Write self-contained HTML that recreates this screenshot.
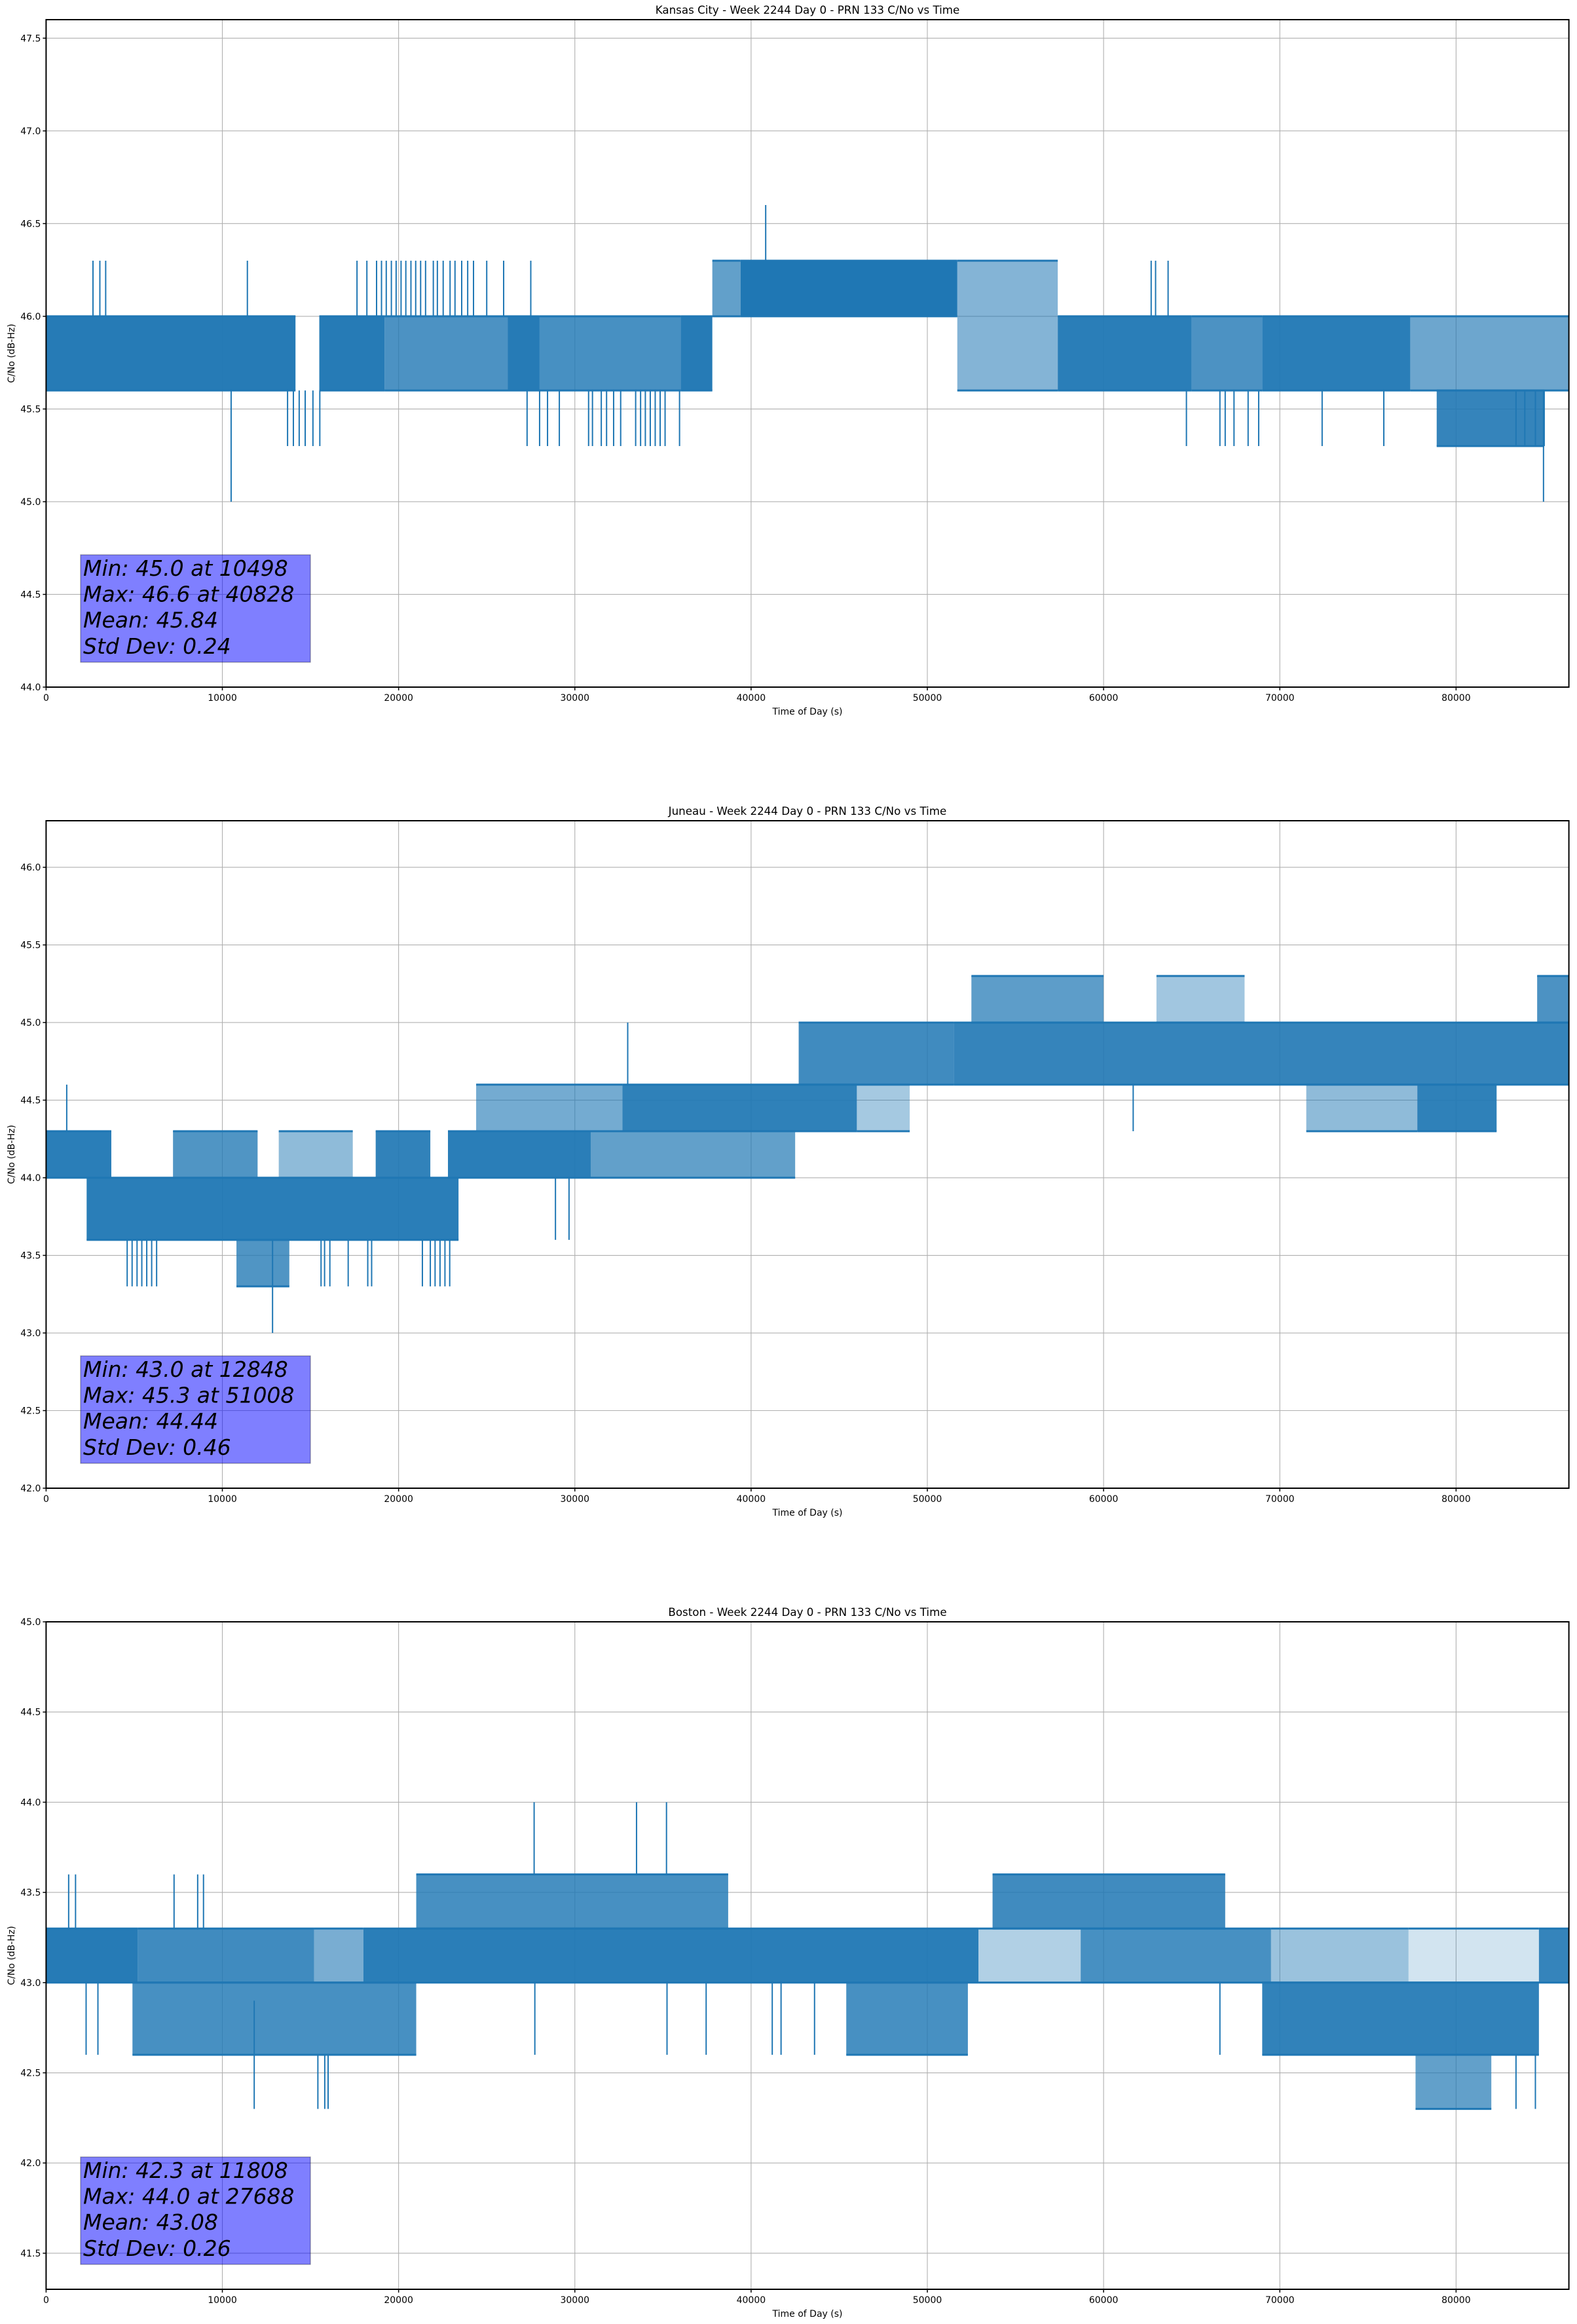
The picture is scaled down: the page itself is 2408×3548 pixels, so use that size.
<!DOCTYPE html>
<html>
<head>
<meta charset="utf-8">
<style>
  html,body{margin:0;padding:0;background:#fff;}
  svg{display:block;}
  text{font-family:"DejaVu Sans","Liberation Sans",sans-serif;fill:#000;}
</style>
</head>
<body>
<svg id="fig" width="2408" height="3548" viewBox="0 0 2408 3548" xmlns="http://www.w3.org/2000/svg">
<rect x="0" y="0" width="2408" height="3548" fill="#fff"/>
</svg>
<script>
// ---------- Kansas City data ----------
const kcTitle = "Kansas City - Week 2244 Day 0 - PRN 133 C/No vs Time";
const kcYRange = [44.0, 47.6];
const kcSegStart = [0, 15500, 19200, 26200, 28000, 36000, 37800, 39400, 51700, 57400, 65000, 69000, 77400, 78900];
const kcSegEnd   = [14150, 19200, 26200, 28000, 36000, 37800, 39400, 51700, 57400, 65000, 69000, 77400, 86400, 85000];
const kcSegLow   = [45.6, 45.6, 45.6, 45.6, 45.6, 45.6, 46.0, 46.0, 45.6, 45.6, 45.6, 45.6, 45.6, 45.3];
const kcSegHigh  = [46.0, 46.0, 46.0, 46.0, 46.0, 46.0, 46.3, 46.3, 46.3, 46.0, 46.0, 46.0, 46.0, 45.6];
const kcSegDens  = [0.97, 0.97, 0.8, 0.97, 0.82, 0.97, 0.7, 1.0, 0.55, 0.95, 0.8, 0.95, 0.65, 0.9];
const kcSpikeT  = [2660,3050,3380,11420,17640,18200,18750,19030,19300,19590,19860,20140,20410,20700,20970,21250,21530,21970,22200,22530,22920,23200,23580,23920,24250,25000,25960,27500,62700,62950,63660,
                   13700,14030,14360,14700,15140,15530,27290,28000,28450,29120,30780,31000,31500,31800,32200,32600,33450,33730,34000,34280,34560,34840,35120,35940,64700,66600,66900,67400,68200,68800,72400,75900,83400,83900,84500,85000,
                   10498,40828,84960];
const kcSpikeLo = [46.0,46.0,46.0,46.0,46.0,46.0,46.0,46.0,46.0,46.0,46.0,46.0,46.0,46.0,46.0,46.0,46.0,46.0,46.0,46.0,46.0,46.0,46.0,46.0,46.0,46.0,46.0,46.0,46.0,46.0,46.0,
                   45.3,45.3,45.3,45.3,45.3,45.3,45.3,45.3,45.3,45.3,45.3,45.3,45.3,45.3,45.3,45.3,45.3,45.3,45.3,45.3,45.3,45.3,45.3,45.3,45.3,45.3,45.3,45.3,45.3,45.3,45.3,45.3,45.3,45.3,45.3,45.3,
                   45.0,46.3,45.0];
const kcSpikeHi = [46.3,46.3,46.3,46.3,46.3,46.3,46.3,46.3,46.3,46.3,46.3,46.3,46.3,46.3,46.3,46.3,46.3,46.3,46.3,46.3,46.3,46.3,46.3,46.3,46.3,46.3,46.3,46.3,46.3,46.3,46.3,
                   45.6,45.6,45.6,45.6,45.6,45.6,45.6,45.6,45.6,45.6,45.6,45.6,45.6,45.6,45.6,45.6,45.6,45.6,45.6,45.6,45.6,45.6,45.6,45.6,45.6,45.6,45.6,45.6,45.6,45.6,45.6,45.6,45.6,45.6,45.6,45.6,
                   45.6,46.6,45.6];
const kcStats = ["Min: 45.0 at 10498","Max: 46.6 at 40828","Mean: 45.84","Std Dev: 0.24"];

// ---------- Juneau data ----------
const juTitle = "Juneau - Week 2244 Day 0 - PRN 133 C/No vs Time";
const juYRange = [42.0, 46.3];
const juSegStart = [0, 2300, 7200, 13200, 18700, 22800, 30900, 24400, 32700, 46000, 42700, 51500, 52500, 63000, 84600, 77800, 71500, 10800];
const juSegEnd   = [3700, 23400, 12000, 17400, 21800, 30900, 42500, 32700, 46000, 49000, 51500, 86400, 60000, 68000, 86400, 82300, 77800, 13800];
const juSegLow   = [44.0, 43.6, 44.0, 44.0, 44.0, 44.0, 44.0, 44.3, 44.3, 44.3, 44.6, 44.6, 45.0, 45.0, 45.0, 44.3, 44.3, 43.3];
const juSegHigh  = [44.3, 44.0, 44.3, 44.3, 44.3, 44.3, 44.3, 44.6, 44.6, 44.6, 45.0, 45.0, 45.3, 45.3, 45.3, 44.6, 44.6, 43.6];
const juSegDens  = [0.95, 0.95, 0.78, 0.5, 0.92, 0.95, 0.7, 0.62, 0.93, 0.4, 0.85, 0.9, 0.72, 0.42, 0.8, 0.93, 0.5, 0.78];
const juSpikeT  = [4600,4880,5160,5430,5710,5990,6270,15600,15800,16100,17140,18250,18470,21350,21800,22070,22350,22630,22900,28900,29670,1170,33000,61680];
const juSpikeLo = [43.3,43.3,43.3,43.3,43.3,43.3,43.3,43.3,43.3,43.3,43.3,43.3,43.3,43.3,43.3,43.3,43.3,43.3,43.3,43.6,43.6,44.3,44.6,44.3];
const juSpikeHi = [43.6,43.6,43.6,43.6,43.6,43.6,43.6,43.6,43.6,43.6,43.6,43.6,43.6,43.6,43.6,43.6,43.6,43.6,43.6,44.0,44.0,44.6,45.0,44.6];
const juMinT = [12848];
const juMinV = [43.0];
const juStats = ["Min: 43.0 at 12848","Max: 45.3 at 51008","Mean: 44.44","Std Dev: 0.46"];

// ---------- Boston data ----------
const boTitle = "Boston - Week 2244 Day 0 - PRN 133 C/No vs Time";
const boYRange = [41.3, 45.0];
const boSegStart = [0, 5200, 15200, 18000, 52900, 58700, 69500, 77300, 84700, 21000, 53700, 4900, 45400, 69000, 77700];
const boSegEnd   = [5200, 15200, 18000, 52900, 58700, 69500, 77300, 84700, 86400, 38700, 66900, 21000, 52300, 84700, 82000];
const boSegLow   = [43.0, 43.0, 43.0, 43.0, 43.0, 43.0, 43.0, 43.0, 43.0, 43.3, 43.3, 42.6, 42.6, 42.6, 42.3];
const boSegHigh  = [43.3, 43.3, 43.3, 43.3, 43.3, 43.3, 43.3, 43.3, 43.3, 43.6, 43.6, 43.0, 43.0, 43.0, 42.6];
const boSegDens  = [0.97, 0.85, 0.6, 0.95, 0.35, 0.82, 0.45, 0.2, 0.9, 0.82, 0.85, 0.82, 0.82, 0.92, 0.7];
const boSpikeT  = [1280,1670,7260,8600,8930,2270,2940,27730,35230,37450,41200,41700,43600,66600,15420,15810,16000,83400,84500,27690,33500,35200];
const boSpikeLo = [43.3,43.3,43.3,43.3,43.3,42.6,42.6,42.6,42.6,42.6,42.6,42.6,42.6,42.6,42.3,42.3,42.3,42.3,42.3,43.6,43.6,43.6];
const boSpikeHi = [43.6,43.6,43.6,43.6,43.6,43.0,43.0,43.0,43.0,43.0,43.0,43.0,43.0,43.0,42.6,42.6,42.6,42.6,42.6,44.0,44.0,44.0];
const boMinT = [11808];
const boMinV = [42.3];
const boStats = ["Min: 42.3 at 11808","Max: 44.0 at 27688","Mean: 43.08","Std Dev: 0.26"];

const xTicks = [0,10000,20000,30000,40000,50000,60000,70000,80000];
const xMax = 86400;

const NS = "http://www.w3.org/2000/svg";
const svg = document.getElementById("fig");
const LEFT = 70.4, RIGHT = 2395.6, H = 1019;
const BLUE = "#1f77b4";

function mk(tag, attrs, parent){
  const e = document.createElementNS(NS, tag);
  for (const k in attrs) e.setAttribute(k, attrs[k]);
  (parent||svg).appendChild(e);
  return e;
}

function drawPlot(key, top, title, yRange, segS, segE, segL, segH, segD, spT, spLo, spHi, minT, minV, stats){
  const bottom = top + H;
  const g = mk("g", {});
  
  
  const xs = t => LEFT + (t / xMax) * (RIGHT - LEFT);
  const ys = v => bottom - (v - yRange[0]) / (yRange[1] - yRange[0]) * H;

  const grid = mk("g", {}, g);
  
  
  xTicks.forEach(t => {
    mk("line", {x1: xs(t), x2: xs(t), y1: top, y2: bottom, stroke: "#b0b0b0", "stroke-width": 1.1}, grid);
  });
  const yTicks = [];
  for (let v = Math.ceil(yRange[0] * 2 - 1e-9) / 2; v <= yRange[1] + 1e-9; v += 0.5) yTicks.push(v);
  yTicks.forEach(v => {
    mk("line", {x1: LEFT, x2: RIGHT, y1: ys(v), y2: ys(v), stroke: "#b0b0b0", "stroke-width": 1.1}, grid);
  });

  const ser = mk("g", {}, g);
  
  
  for (let i = 0; i < segS.length; i++){
    const r = mk("rect", {x: xs(segS[i]), y: ys(segH[i]), width: xs(segE[i]) - xs(segS[i]), height: ys(segL[i]) - ys(segH[i]), fill: BLUE, "fill-opacity": segD[i]}, ser);
    
    
    mk("line", {x1: xs(segS[i]), x2: xs(segE[i]), y1: ys(segH[i]), y2: ys(segH[i]), stroke: BLUE, "stroke-width": 3}, ser);
    mk("line", {x1: xs(segS[i]), x2: xs(segE[i]), y1: ys(segL[i]), y2: ys(segL[i]), stroke: BLUE, "stroke-width": 3}, ser);
  }
  for (let i = 0; i < spT.length; i++){
    const l = mk("line", {x1: xs(spT[i]), x2: xs(spT[i]), y1: ys(spLo[i]), y2: ys(spHi[i]), stroke: BLUE, "stroke-width": 2}, ser);
    
    
  }
  if (minT){
    for (let i = 0; i < minT.length; i++){
      const l = mk("line", {x1: xs(minT[i]), x2: xs(minT[i]), y1: ys(minV[i]), y2: ys(minV[i] + 0.6), stroke: BLUE, "stroke-width": 2}, ser);
      
      
    }
  }

  const sb = mk("g", {}, g);
  
  
  mk("rect", {x: 123, y: bottom - 202, width: 351, height: 164, fill: "#0000ff", "fill-opacity": 0.5, stroke: "#000", "stroke-opacity": 0.3, "stroke-width": 1.5}, sb);
  stats.forEach((s, i) => {
    const t = mk("text", {x: 127, y: bottom - 170 + i * 39.6, "font-size": 33, "font-style": "italic"}, sb);
    t.textContent = s;
    
    
  });

  const fr = mk("rect", {x: LEFT, y: top, width: RIGHT - LEFT, height: H, fill: "none", stroke: "#000", "stroke-width": 2}, g);
  
  

  const xa = mk("g", {}, g);
  
  
  xTicks.forEach(t => {
    mk("line", {x1: xs(t), x2: xs(t), y1: bottom, y2: bottom + 5, stroke: "#000", "stroke-width": 1.5}, xa);
    const tx = mk("text", {x: xs(t), y: bottom + 21, "font-size": 14, "text-anchor": "middle"}, xa);
    tx.textContent = String(t);
    
    
  });
  const xl = mk("text", {x: (LEFT + RIGHT) / 2, y: bottom + 42, "font-size": 14, "text-anchor": "middle"}, xa);
  xl.textContent = "Time of Day (s)";
  
  

  const ya = mk("g", {}, g);
  
  
  yTicks.forEach(v => {
    mk("line", {x1: LEFT - 5, x2: LEFT, y1: ys(v), y2: ys(v), stroke: "#000", "stroke-width": 1.5}, ya);
    const ty = mk("text", {x: LEFT - 8, y: ys(v) + 5, "font-size": 14, "text-anchor": "end"}, ya);
    ty.textContent = v.toFixed(1);
    
    
  });
  const cy = (top + bottom) / 2;
  const yl = mk("text", {x: 18, y: cy, "font-size": 14, "text-anchor": "middle", transform: "rotate(-90 18 " + cy + ")", "dominant-baseline": "middle"}, ya);
  yl.textContent = "C/No (dB-Hz)";
  
  

  const tt = mk("text", {x: (LEFT + RIGHT) / 2, y: top - 9, "font-size": 16.7, "text-anchor": "middle"}, g);
  tt.textContent = title;
  
  
}

drawPlot("kansas-city", 30, kcTitle, kcYRange, kcSegStart, kcSegEnd, kcSegLow, kcSegHigh, kcSegDens, kcSpikeT, kcSpikeLo, kcSpikeHi, null, null, kcStats);
drawPlot("juneau", 1253, juTitle, juYRange, juSegStart, juSegEnd, juSegLow, juSegHigh, juSegDens, juSpikeT, juSpikeLo, juSpikeHi, juMinT, juMinV, juStats);
drawPlot("boston", 2476, boTitle, boYRange, boSegStart, boSegEnd, boSegLow, boSegHigh, boSegDens, boSpikeT, boSpikeLo, boSpikeHi, boMinT, boMinV, boStats);
</script>
</body>
</html>
